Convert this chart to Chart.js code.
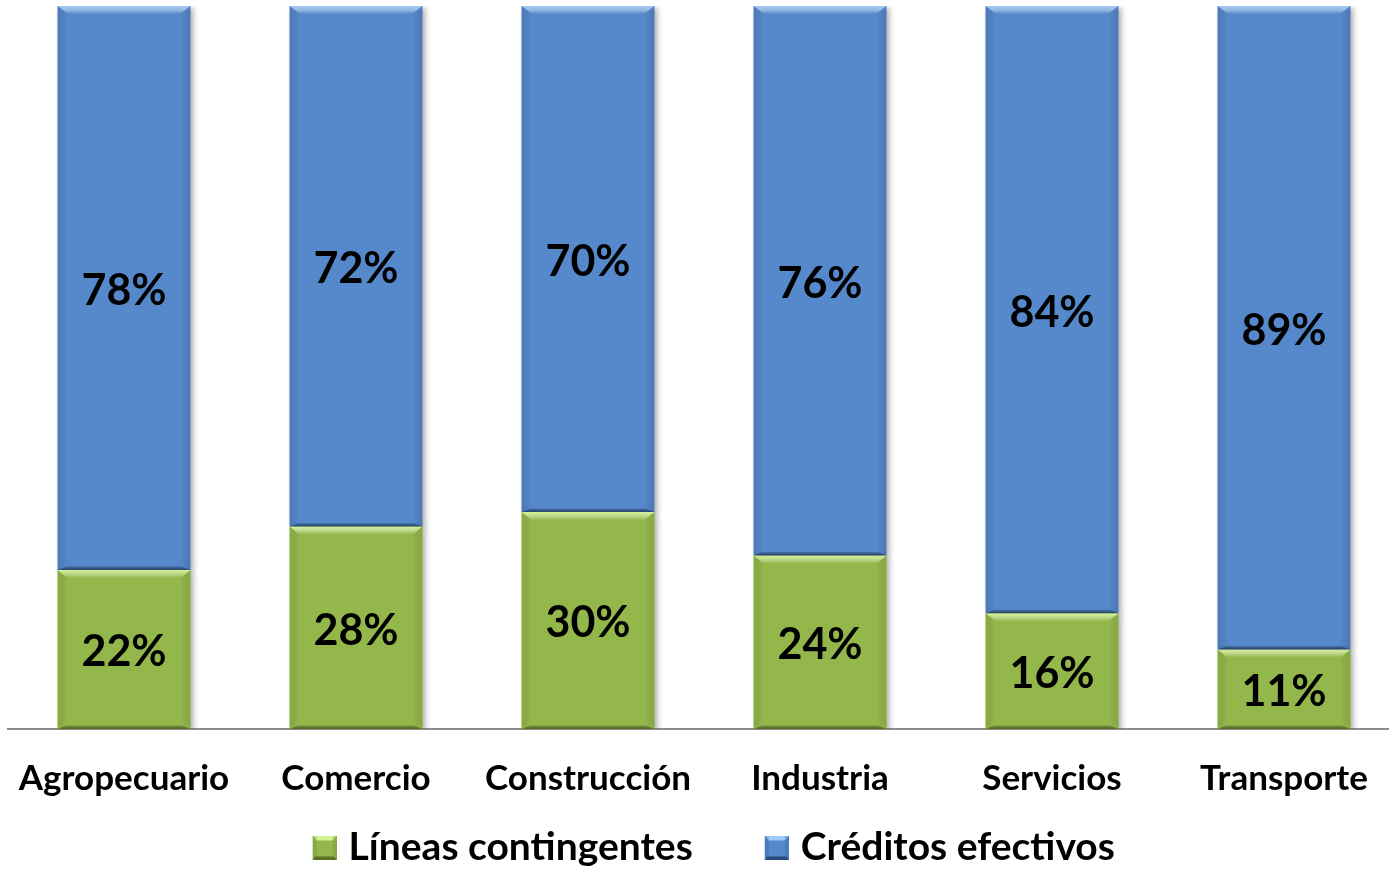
<!DOCTYPE html>
<html>
<head>
<meta charset="utf-8">
<script src="https://cdn.jsdelivr.net/npm/chart.js@4.4.1/dist/chart.umd.min.js"></script>
<style>
  html, body { margin: 0; padding: 0; background: #fff; overflow: hidden; }
  .wrap { position: relative; width: 1400px; height: 869px; }
</style>
</head>
<body>
<div class="wrap"><canvas id="c"></canvas></div>
<script>
// datos
const categories = ['Agropecuario', 'Comercio', 'Construcción', 'Industria', 'Servicios', 'Transporte'];
const lineasContingentes = [22, 28, 30, 24, 16, 11];
const creditosEfectivos = [78, 72, 70, 76, 84, 89];
const seriesNames = ['Líneas contingentes', 'Créditos efectivos'];

const FONT = 'Lato, "Open Sans", sans-serif';
const GREEN = '#93b74b';
const BLUE = '#5689cb';

const bevels = [
  { light: 'rgba(215,245,150,0.95)', dark: 'rgba(80,100,30,0.85)', side: 'rgba(90,110,30,0.18)' },
  { light: 'rgba(165,205,250,0.95)', dark: 'rgba(35,65,110,0.85)', side: 'rgba(30,60,110,0.18)' }
];

const LEG_PAD = 24;
const LEG_BOX = 36;

// cuadrito de la leyenda con bisel (pegado a la derecha de la imagen)
function legendBox(base, bv) {
  const c = document.createElement('canvas');
  c.width = LEG_BOX + 15; c.height = 24;
  const g = c.getContext('2d');
  g.translate(c.width - 24, 0);
  g.fillStyle = base; g.fillRect(0, 0, 24, 24);
  g.fillStyle = bv.light;
  g.beginPath(); g.moveTo(0, 0); g.lineTo(24, 0); g.lineTo(20, 5); g.lineTo(4, 5); g.closePath(); g.fill();
  g.fillStyle = bv.dark;
  g.beginPath(); g.moveTo(0, 24); g.lineTo(24, 24); g.lineTo(21, 21); g.lineTo(3, 21); g.closePath(); g.fill();
  g.fillStyle = bv.side;
  g.fillRect(0, 0, 4, 24); g.fillRect(20, 0, 4, 24);
  return c;
}

function band(ctx, pts, grad) {
  ctx.fillStyle = grad;
  ctx.beginPath();
  ctx.moveTo(pts[0][0], pts[0][1]);
  for (let i = 1; i < pts.length; i++) ctx.lineTo(pts[i][0], pts[i][1]);
  ctx.closePath();
  ctx.fill();
}

// bisel + sombra de las barras
const bevelPlugin = {
  id: 'bevel',
  beforeDatasetsDraw(chart) {
    const ctx = chart.ctx;
    ctx.save();
    ctx.shadowColor = 'rgba(0,0,0,0.35)';
    ctx.shadowBlur = 6;
    ctx.shadowOffsetX = 3;
    ctx.shadowOffsetY = 2;
  },
  afterDatasetsDraw(chart) {
    const ctx = chart.ctx;
    ctx.restore();
    chart.data.datasets.forEach((ds, di) => {
      const bv = bevels[di];
      chart.getDatasetMeta(di).data.forEach(el => {
        const l = el.x - el.width / 2, r = el.x + el.width / 2;
        const t = Math.min(el.y, el.base), btm = Math.max(el.y, el.base);
        const bt = 8, bb = 4, bs = 10;
        ctx.save();
        let gl = ctx.createLinearGradient(l, 0, l + bs, 0);
        gl.addColorStop(0, bv.side); gl.addColorStop(1, 'rgba(0,0,0,0)');
        band(ctx, [[l, t], [l + bs, t + bt], [l + bs, btm - bb], [l, btm]], gl);
        let gr = ctx.createLinearGradient(r, 0, r - bs, 0);
        gr.addColorStop(0, bv.side); gr.addColorStop(1, 'rgba(0,0,0,0)');
        band(ctx, [[r, t], [r - bs, t + bt], [r - bs, btm - bb], [r, btm]], gr);
        let gt = ctx.createLinearGradient(0, t, 0, t + bt);
        gt.addColorStop(0, bv.light); gt.addColorStop(1, 'rgba(255,255,255,0)');
        band(ctx, [[l, t], [r, t], [r - bs, t + bt], [l + bs, t + bt]], gt);
        let gb = ctx.createLinearGradient(0, btm, 0, btm - bb);
        gb.addColorStop(0, bv.dark); gb.addColorStop(1, 'rgba(0,0,0,0)');
        band(ctx, [[l, btm], [r, btm], [r - bs, btm - bb], [l + bs, btm - bb]], gb);
        ctx.restore();
      });
    });
    // etiquetas de porcentaje
    ctx.save();
    ctx.fillStyle = '#000';
    ctx.font = 'bold 43px ' + FONT;
    ctx.textAlign = 'center';
    ctx.textBaseline = 'middle';
    chart.data.datasets.forEach((ds, di) => {
      chart.getDatasetMeta(di).data.forEach((el, i) => {
        ctx.fillText(ds.data[i] + '%', el.x, (el.y + el.base) / 2 + 3);
      });
    });
    ctx.restore();
  }
};

new Chart(document.getElementById('c'), {
  type: 'bar',
  data: {
    labels: categories,
    datasets: [
      { label: seriesNames[0], data: lineasContingentes, backgroundColor: GREEN, borderWidth: 0 },
      { label: seriesNames[1], data: creditosEfectivos, backgroundColor: BLUE, borderWidth: 0 }
    ]
  },
  options: {
    responsive: true,
    maintainAspectRatio: false,
    animation: false,
    categoryPercentage: 1,
    barPercentage: 0.573,
    layout: { padding: { left: 8, right: 0, top: 6, bottom: 0 } },
    plugins: {
      tooltip: { enabled: false },
      legend: {
        position: 'bottom',
        maxHeight: LEG_PAD + 41,
        labels: {
          color: '#000',
          font: { family: FONT, size: 39, weight: 'bold', lineHeight: 1 },
          usePointStyle: true,
          boxWidth: LEG_BOX,
          boxHeight: 24,
          padding: LEG_PAD,
          generateLabels(chart) {
            return chart.data.datasets.map((ds, i) => ({
              // espacios finales = separación entre elementos
              text: i === 0 ? ds.label + '   ' : ds.label,
              pointStyle: legendBox(ds.backgroundColor, bevels[i]),
              datasetIndex: i,
              hidden: false,
              fontColor: '#000'
            }));
          }
        }
      }
    },
    scales: {
      x: {
        stacked: true,
        grid: { display: false, drawTicks: false },
        border: { display: true, color: '#8c8c8c', width: 2 },
        ticks: { color: '#000', font: { family: FONT, size: 35, weight: 'bold' }, padding: 29 },
        afterFit(scale) {
          scale.paddingLeft = 0;
          scale.paddingRight = 0;
          scale.height = 75;
        }
      },
      y: {
        stacked: true,
        display: false,
        min: 0,
        max: 100
      }
    }
  },
  plugins: [bevelPlugin]
});
</script>
</body>
</html>
